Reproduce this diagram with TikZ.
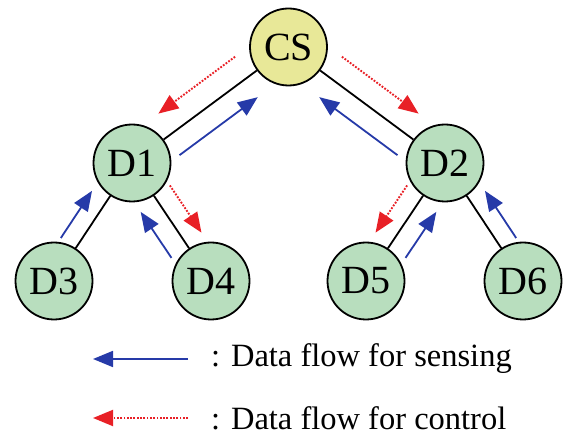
\documentclass[tikz,border=0pt]{standalone}
\usepackage{fontspec}
\setmainfont{Liberation Serif}
\usetikzlibrary{calc,arrows.meta}
\definecolor{csyellow}{RGB}{232,232,152}
\definecolor{devgreen}{RGB}{184,222,190}
\definecolor{flowblue}{RGB}{38,58,168}
\definecolor{flowred}{RGB}{232,32,38}
\tikzset{
  dev/.style={circle,draw=black,line width=1.8pt,fill=devgreen,minimum size=77pt,inner sep=0pt,font=\fontsize{40}{40}\selectfont},
  link/.style={line width=1.8pt,black},
  sensing/.style={line width=1.8pt,flowblue,-{Triangle[length=20pt,width=16pt]}},
  control/.style={line width=1.9pt,flowred,dash pattern=on 1.8pt off 1.5pt,-{Triangle[length=20pt,width=16pt]}},
  legtext/.style={anchor=west,inner sep=0pt,font=\fontsize{32.5}{36}\selectfont}
}
% #1 style, #2 from node, #3 to node, #4 start fraction, #5 end fraction, #6 signed offset (+ = left of travel)
\newcommand\flowarrow[6]{%
  \path ($(#2)!#4!(#3)$) coordinate (fa) ($(#2)!#5!(#3)$) coordinate (fb);
  \path ($(fa)!#6!90:(fb)$) coordinate (fs) ($(fb)!#6!-90:(fa)$) coordinate (fe);
  \draw[#1] (fs) -- (fe);
}
\begin{document}
\begin{tikzpicture}[x=1pt,y=1pt]
\useasboundingbox (0,0) rectangle (568,437);
% nodes
\node[dev,fill=csyellow] (CS) at (288.5,390) {CS};
\node[dev] (D1) at (132,274) {D1};
\node[dev] (D2) at (445,274) {D2};
\node[dev] (D3) at (54,156) {D3};
\node[dev] (D4) at (211,156) {D4};
\node[dev] (D5) at (366,156) {D5};
\node[dev] (D6) at (523,156) {D6};
% links
\draw[link] (CS) -- (D1);
\draw[link] (CS) -- (D2);
\draw[link] (D1) -- (D3);
\draw[link] (D1) -- (D4);
\draw[link] (D2) -- (D5);
\draw[link] (D2) -- (D6);
% flows
\flowarrow{control}{CS}{D1}{0.25}{0.74}{-24pt}
\flowarrow{sensing}{D1}{CS}{0.22}{0.72}{-22pt}
\flowarrow{control}{CS}{D2}{0.25}{0.74}{24pt}
\flowarrow{sensing}{D2}{CS}{0.22}{0.72}{22pt}
\flowarrow{sensing}{D3}{D1}{0.28}{0.68}{18pt}
\flowarrow{control}{D1}{D4}{0.28}{0.68}{19pt}
\flowarrow{sensing}{D4}{D1}{0.29}{0.68}{20pt}
\flowarrow{control}{D2}{D5}{0.28}{0.68}{-19pt}
\flowarrow{sensing}{D5}{D2}{0.29}{0.68}{-20pt}
\flowarrow{sensing}{D6}{D2}{0.28}{0.68}{-18pt}
% legend
\coordinate (ls0) at (188,78);
\coordinate (ls1) at (93,78);
\coordinate (lc0) at (188,19);
\coordinate (lc1) at (93,19);
\draw[sensing] (ls0) -- (ls1);
\draw[control] (lc0) -- (lc1);
\node[legtext] (lt1) at (211,78) {: Data flow for sensing};
\node[legtext] (lt2) at (211,19) {: Data flow for control};
\end{tikzpicture}
\end{document}
